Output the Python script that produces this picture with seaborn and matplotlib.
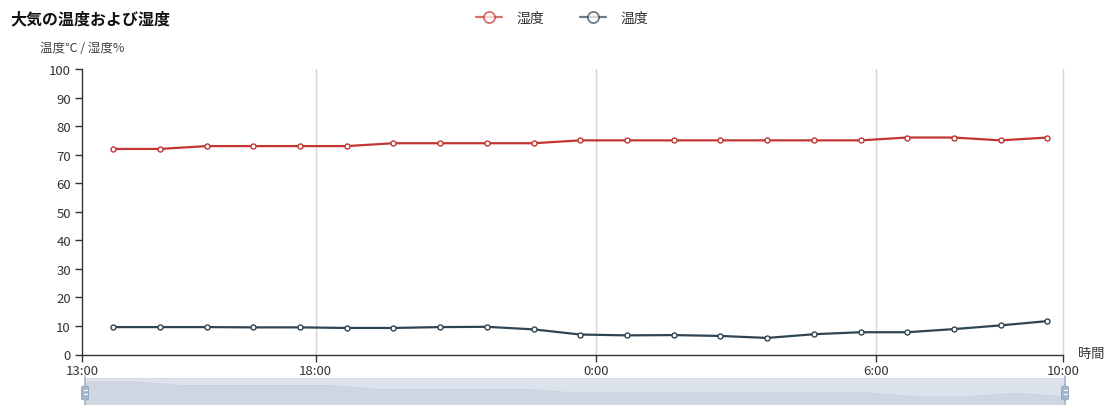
import matplotlib
matplotlib.use("Agg")
import matplotlib.pyplot as plt
from matplotlib.lines import Line2D
from matplotlib.patches import FancyBboxPatch
import numpy as np
import pandas as pd
import seaborn as sns

# Hourly readings, 13:40 through 09:40 the next morning
times = ["13:40", "14:40", "15:40", "16:40", "17:40", "18:40", "19:40",
         "20:40", "21:40", "22:40", "23:40", "0:40", "1:40", "2:40",
         "3:40", "4:40", "5:40", "6:40", "7:40", "8:40", "9:40"]
humidity = [72, 72, 73, 73, 73, 73, 74, 74, 74, 74, 75,
            75, 75, 75, 75, 75, 75, 76, 76, 75, 76]
temperature = [9.6, 9.6, 9.6, 9.5, 9.5, 9.3, 9.3, 9.6, 9.7, 8.8, 7.0,
               6.7, 6.8, 6.5, 5.8, 7.1, 7.8, 7.8, 8.9, 10.2, 11.7]

series_names = ["湿度", "温度"]
series_colors = ["#c23531", "#2f4554"]
tick_labels = ["13:00", "18:00", "0:00", "6:00", "10:00"]

title = "大気の温度および湿度"
y_label = "温度℃ / 湿度%"
x_label = "時間"


def to_stamps(labels, base):
    """Turn H:MM strings into timestamps, rolling over past midnight."""
    out, day, prev = [], 0, -1
    for t in labels:
        h, m = map(int, t.split(":"))
        if h < prev:
            day += 1
        prev = h
        out.append(base + pd.Timedelta(days=day, hours=h, minutes=m))
    return out


base = pd.Timestamp("2024-01-01")
stamps = to_stamps(times, base)
tick_stamps = to_stamps(tick_labels, base)

df = pd.DataFrame({
    "time": stamps * 2,
    "value": humidity + temperature,
    "series": [series_names[0]] * len(times) + [series_names[1]] * len(times),
})

sns.set_theme(style="white")
plt.rcParams["font.family"] = ["Noto Sans CJK JP", "DejaVu Sans"]

W, H = 1107, 406
fig = plt.figure(figsize=(W / 100, H / 100), dpi=100)
ax = fig.add_axes([82 / W, 1 - 355.5 / H, (1063 - 82) / W, (355.5 - 70) / H])

palette = dict(zip(series_names, series_colors))
sns.lineplot(data=df, x="time", y="value", hue="series", palette=palette,
             ax=ax, linewidth=1.6, marker="o", markersize=3.6,
             markerfacecolor="white", markeredgewidth=1.0, legend=False,
             zorder=3)
for line, col in zip(ax.get_lines(), series_colors):
    line.set_markeredgecolor(col)

ax.set_xlim(tick_stamps[0], tick_stamps[-1])
ax.set_ylim(0, 100)
ax.set_yticks(np.arange(0, 101, 10))
ax.set_xticks(tick_stamps)
ax.set_xticklabels(tick_labels)
ax.set_xlabel("")
ax.set_ylabel("")

for ts in tick_stamps[1:]:
    ax.axvline(ts, color="#d4d4d4", linewidth=1.0, zorder=1, clip_on=False)

for side in ["top", "right"]:
    ax.spines[side].set_visible(False)
for side in ["left", "bottom"]:
    ax.spines[side].set_color("#333333")
    ax.spines[side].set_linewidth(1.0)

ax.tick_params(axis="both", which="both", length=5, width=1,
               color="#333333", labelcolor="#333333", labelsize=9.5,
               direction="out", pad=3)
ax.tick_params(axis="x", bottom=True, pad=2)
ax.tick_params(axis="y", left=True)

fig.text(10 / W, 1 - 19 / H, title, fontsize=11.5, fontweight="bold",
         color="#111111", va="center", ha="left")
fig.text(40 / W, 1 - 48 / H, y_label, fontsize=9, color="#444444",
         va="center", ha="left")
fig.text(1078 / W, 1 - 355 / H, x_label, fontsize=9.5, color="#333333",
         va="center", ha="left")

handles = [Line2D([0], [0], color=c, lw=1.6, marker="o", markersize=8,
                  markerfacecolor="white", markeredgewidth=1.3,
                  markeredgecolor=c, alpha=0.7)
           for c in series_colors]
fig.legend(handles, series_names, loc="center", ncol=2,
           bbox_to_anchor=(562 / W, 1 - 19 / H), frameon=False,
           fontsize=10, handlelength=1.9, handletextpad=1.0,
           columnspacing=2.6, labelcolor="#333333")

# Range slider beneath the chart, with a shadow of the humidity series
sx0, sx1, sy0, sy1 = 85, 1065, 379, 409
sax = fig.add_axes([sx0 / W, 1 - sy1 / H, (sx1 - sx0) / W, (sy1 - sy0) / H])
sax.set_facecolor("#dde3ec")
pos = np.arange(len(humidity))
lo, hi = min(humidity), max(humidity)
span = hi - lo
sax.set_xlim(0, len(humidity) - 1)
y_bottom = hi + span * 0.74
y_top = lo - span * 0.26
sax.set_ylim(y_bottom, y_top)
sax.fill_between(pos, humidity, y_bottom, color="#cfd6e2", lw=0)
sax.plot(pos, humidity, color="#c9d1de", lw=0.8)
sax.set_xticks([])
sax.set_yticks([])
for s in sax.spines.values():
    s.set_color("#d2dbee")
    s.set_linewidth(0.8)

for hx in (sx0, sx1):
    fx = hx / W
    fig.add_artist(Line2D([fx, fx], [1 - 409 / H, 1 - 377 / H],
                          color="#a7b7cc", lw=1.2, transform=fig.transFigure))
    fig.add_artist(FancyBboxPatch(((hx - 3.5) / W, 1 - 401 / H),
                                  7 / W, 14 / H,
                                  boxstyle="round,pad=0,rounding_size=0.004",
                                  facecolor="#a7b7cc", edgecolor="#8fa3bd",
                                  lw=0.6, transform=fig.transFigure))
    for dy in (391, 395):
        fig.add_artist(Line2D([(hx - 1.5) / W, (hx + 1.5) / W],
                              [1 - dy / H, 1 - dy / H], color="white",
                              lw=0.8, transform=fig.transFigure))

fig.savefig("out.png", dpi=100)
